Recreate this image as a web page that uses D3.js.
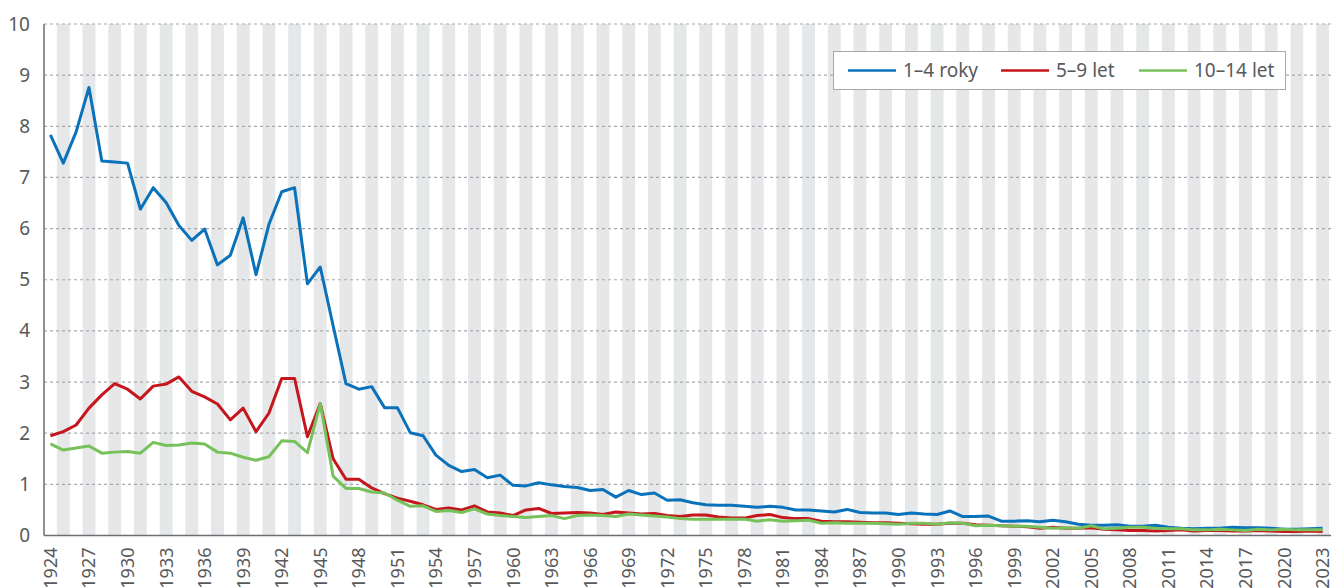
<!DOCTYPE html>
<html><head><meta charset="utf-8">
<script src="https://cdn.jsdelivr.net/npm/d3@7/dist/d3.min.js"></script>
<style>
html,body{margin:0;padding:0;background:#fff;}
svg{display:block;font-family:"Noto Sans",sans-serif;}
</style></head>
<body>
<svg id="c" width="1331" height="588"></svg>
<script>
const years = d3.range(1924, 2024);
const yTicks = [0,1,2,3,4,5,6,7,8,9,10];
const xTickYears = d3.range(1924, 2024, 3);
const seriesNames = ["1–4 roky", "5–9 let", "10–14 let"];
const seriesColors = ["#0a72ba", "#c4161c", "#77c15a"];

const age1_4 = [
7.83,7.28,7.89,8.76,7.32,7.30,7.28,6.38,6.80,6.51,
6.06,5.77,5.99,5.29,5.48,6.21,5.10,6.08,6.72,6.80,
4.92,5.25,4.10,2.97,2.86,2.91,2.50,2.50,2.01,1.95,
1.57,1.37,1.25,1.29,1.13,1.18,0.98,0.97,1.03,0.99,
0.96,0.94,0.88,0.90,0.75,0.88,0.80,0.83,0.69,0.70,
0.64,0.60,0.59,0.59,0.57,0.55,0.57,0.55,0.50,0.50,
0.48,0.46,0.51,0.45,0.44,0.44,0.41,0.44,0.42,0.41,
0.48,0.37,0.37,0.38,0.28,0.28,0.29,0.27,0.30,0.27,
0.22,0.20,0.20,0.21,0.18,0.18,0.20,0.16,0.14,0.13,
0.14,0.14,0.16,0.15,0.15,0.14,0.12,0.12,0.13,0.14];
const age5_9 = [
1.95,2.03,2.16,2.49,2.75,2.97,2.86,2.67,2.92,2.96,
3.10,2.82,2.71,2.57,2.26,2.49,2.03,2.39,3.07,3.07,
1.93,2.58,1.50,1.10,1.10,0.93,0.82,0.73,0.67,0.60,
0.51,0.54,0.50,0.58,0.46,0.44,0.39,0.50,0.53,0.43,
0.44,0.45,0.44,0.41,0.46,0.44,0.42,0.43,0.39,0.37,
0.40,0.40,0.36,0.34,0.34,0.39,0.41,0.35,0.33,0.33,
0.28,0.27,0.27,0.26,0.25,0.25,0.24,0.23,0.22,0.22,
0.24,0.24,0.21,0.20,0.19,0.18,0.17,0.14,0.16,0.14,
0.14,0.15,0.12,0.11,0.10,0.10,0.09,0.10,0.11,0.09,
0.10,0.10,0.09,0.09,0.10,0.09,0.08,0.08,0.09,0.08];
const age10_14 = [
1.79,1.67,1.71,1.75,1.61,1.63,1.64,1.61,1.82,1.76,
1.77,1.81,1.79,1.63,1.61,1.53,1.47,1.54,1.85,1.84,
1.62,2.58,1.16,0.92,0.92,0.85,0.83,0.69,0.57,0.58,
0.47,0.49,0.45,0.52,0.42,0.39,0.37,0.35,0.37,0.39,
0.33,0.39,0.40,0.39,0.37,0.42,0.40,0.38,0.36,0.33,
0.32,0.32,0.32,0.32,0.32,0.28,0.31,0.28,0.29,0.30,
0.24,0.25,0.24,0.24,0.24,0.23,0.22,0.24,0.24,0.22,
0.25,0.24,0.19,0.20,0.19,0.18,0.18,0.16,0.14,0.15,
0.14,0.19,0.13,0.14,0.16,0.16,0.14,0.13,0.13,0.11,
0.11,0.12,0.11,0.10,0.12,0.11,0.12,0.11,0.11,0.11];

const allSeries = [age1_4, age5_9, age10_14];

const svg = d3.select("#c");
const L = 44, R = 1329, T = 24, B = 535.5, W = 1331;

const x = d3.scaleBand().domain(years).range([L, R]).padding(0);
const y = d3.scaleLinear().domain([0, 10]).range([B, T]);
const cx = yr => x(yr) + x.bandwidth() / 2;

// alternating bands (odd years gray)
svg.append("g").selectAll("rect")
  .data(years.filter(yr => yr % 2 === 1))
  .join("rect")
  .attr("x", d => x(d)).attr("y", T)
  .attr("width", x.bandwidth()).attr("height", B - T)
  .attr("fill", "#e6e7e8");

// gridlines
svg.append("g").selectAll("line")
  .data(yTicks.filter(t => t > 0))
  .join("line")
  .attr("x1", L).attr("x2", W)
  .attr("y1", d => y(d)).attr("y2", d => y(d))
  .attr("stroke", "#a7a9ac").attr("stroke-width", 1.2)
  .attr("stroke-dasharray", "3,3");

// y axis labels
const yAxis = d3.axisLeft(y).tickValues(yTicks).tickSize(0).tickPadding(14);
const gy = svg.append("g").attr("transform", `translate(${L},0)`).call(yAxis);
gy.select(".domain").remove();
gy.selectAll("text").attr("font-size", 19).attr("fill", "#58595b")
  .attr("font-family", "'Noto Sans',sans-serif");

// x axis labels
const xAxis = d3.axisBottom(x).tickValues(xTickYears).tickSize(0);
const gx = svg.append("g").attr("transform", `translate(0,${B})`).call(xAxis);
gx.select(".domain").remove();
gx.selectAll("text")
  .attr("font-size", 18).attr("fill", "#58595b")
  .attr("font-family", "'Noto Sans',sans-serif")
  .attr("transform", "rotate(-90)")
  .attr("text-anchor", "end")
  .attr("x", -12).attr("y", 0).attr("dy", "0.36em");

// axis lines
svg.append("line").attr("x1", L).attr("x2", L).attr("y1", T).attr("y2", B)
  .attr("stroke", "#6d6e71").attr("stroke-width", 1.5);
svg.append("line").attr("x1", L).attr("x2", W).attr("y1", B).attr("y2", B)
  .attr("stroke", "#6d6e71").attr("stroke-width", 1.5);

// lines
const line = d3.line().x((d, i) => cx(years[i])).y(d => y(d));
allSeries.forEach((s, k) => {
  svg.append("path").datum(s)
    .attr("d", line)
    .attr("fill", "none")
    .attr("stroke", seriesColors[k])
    .attr("stroke-width", 3)
    .attr("stroke-linejoin", "round");
});

// legend
const lg = svg.append("g");
lg.append("rect").attr("x", 833.5).attr("y", 51.5).attr("width", 452).attr("height", 38)
  .attr("fill", "#fff").attr("stroke", "#a7a9ac").attr("stroke-width", 1);
const legendX = [848, 1001, 1139];
seriesNames.forEach((n, k) => {
  lg.append("line").attr("x1", legendX[k]).attr("x2", legendX[k] + 48)
    .attr("y1", 70.5).attr("y2", 70.5)
    .attr("stroke", seriesColors[k]).attr("stroke-width", 2.5);
  lg.append("text").attr("x", legendX[k] + 55).attr("y", 70.5).attr("dy", "0.35em")
    .attr("font-size", 19).attr("fill", "#58595b").text(n);
});
</script>
</body></html>
